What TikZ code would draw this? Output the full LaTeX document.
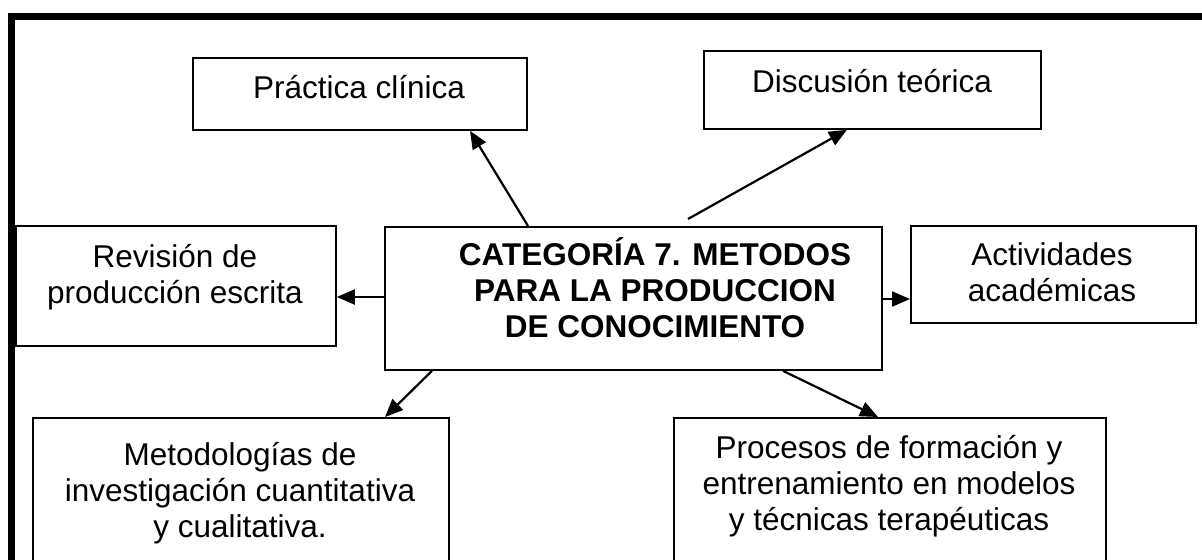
\documentclass[tikz,border=0pt]{standalone}
\usepackage{fontspec}
\setmainfont{Liberation Sans}
\usetikzlibrary{arrows.meta}
\newcommand{\mylines}[1]{\begin{tabular}[t]{@{}c@{}}#1\end{tabular}}
\begin{document}
\begin{tikzpicture}[x=0.5pt,y=-0.5pt,
  box/.style={draw, line width=0.9pt, inner sep=0pt, anchor=north west},
  txt/.style={anchor=base, inner sep=0pt, font=\fontsize{15.75}{18}\selectfont},
  arr/.style={line width=1.1pt, -{Triangle[length=9pt,width=7.5pt]}}]
\useasboundingbox (0,0) rectangle (1202,559);
\clip (0,0) rectangle (1202,559);
\draw[line width=3.5pt] (11.5,16) rectangle (1240,620);
% boxes
\node[box, minimum width=167pt, minimum height=36pt] (prac) at (192,57) {};
\node[box, minimum width=168.5pt, minimum height=39pt] (disc) at (703,50) {};
\node[box, minimum width=160pt, minimum height=60pt] (rev) at (15,225) {};
\node[box, minimum width=248.5pt, minimum height=71.5pt] (cen) at (384,226) {};
\node[box, minimum width=142.5pt, minimum height=48.5pt] (act) at (910,225) {};
\node[box, minimum width=208pt, minimum height=101.5pt] (met) at (32,417) {};
\node[box, minimum width=216pt, minimum height=101.5pt] (pro) at (673,417) {};
% texts
\node[txt] (prac-t) at (359,98) {Práctica clínica};
\node[txt] (disc-t) at (872,92) {Discusión teórica};
\node[txt] (rev-t) at (175,267) {\mylines{Revisión de\\producción escrita}};
\node[txt, font=\fontsize{15.75}{18}\selectfont\bfseries] (cen-t) at (655,265) {\mylines{CATEGORÍA 7. METODOS\\PARA LA PRODUCCION\\DE CONOCIMIENTO}};
\node[txt] (act-t) at (1052,265) {\mylines{Actividades\\académicas}};
\node[txt] (met-t) at (240,465) {\mylines{Metodologías de\\investigación cuantitativa\\y cualitativa.}};
\node[txt] (pro-t) at (889,458) {\mylines{Procesos de formación y\\entrenamiento en modelos\\y técnicas terapéuticas}};
% connectors
\coordinate (s3) at ([yshift=-35.5pt]cen.north west);
\coordinate (s4) at ([yshift=-36.5pt]cen.north east);
\coordinate (s2) at ([xshift=152pt,yshift=3.5pt]cen.north west);
\draw[arr] ([xshift=72pt]cen.north west) -- ([xshift=139pt]prac.south west);
\draw[arr] (s2) -- ([xshift=72pt]disc.south west);
\draw[arr] (s3) -- (s3 -| rev.east);
\draw[arr] (s4) -- (s4 -| act.west);
\draw[arr] ([xshift=24pt]cen.south west) -- ([xshift=176.5pt]met.north west);
\draw[arr] ([xshift=199.5pt]cen.south west) -- ([xshift=102.5pt]pro.north west);
\end{tikzpicture}
\end{document}
